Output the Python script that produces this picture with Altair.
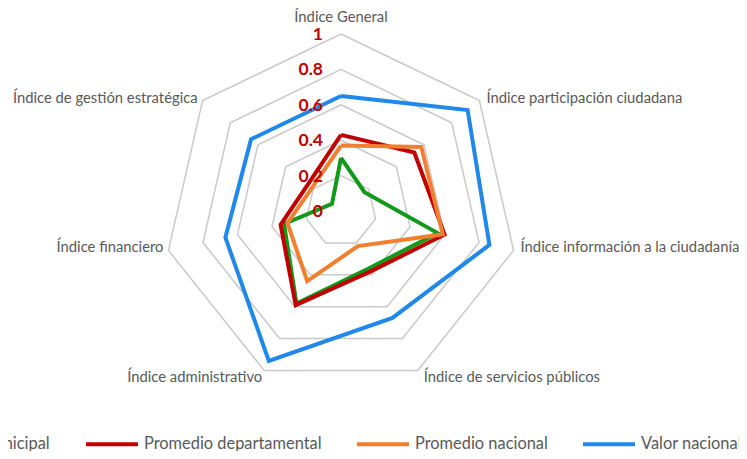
import altair as alt
import pandas as pd

# ---------------- data ----------------
categories = [
    "Índice General",
    "Índice participación ciudadana",
    "Índice información a la ciudadanía",
    "Índice de servicios públicos",
    "Índice administrativo",
    "Índice financiero",
    "Índice de gestión estratégica",
]
series_names = ["Valor municipal", "Promedio departamental", "Promedio nacional", "Valor nacional"]
valor_municipal = [0.30, 0.17, 0.56, 0.36, 0.58, 0.33, 0.065]
promedio_departamental = [0.43, 0.53, 0.60, 0.38, 0.59, 0.35, 0.24]
promedio_nacional = [0.37, 0.58, 0.59, 0.22, 0.44, 0.31, 0.21]
valor_nacional = [0.65, 0.915, 0.86, 0.67, 0.94, 0.67, 0.65]
series_colors = ["#12991A", "#C00000", "#F0802F", "#1F88EA"]
ring_values = [0.2, 0.4, 0.6, 0.8, 1.0]
tick_values = [0, 0.2, 0.4, 0.6, 0.8, 1.0]
tick_labels = ["0", "0.2", "0.4", "0.6", "0.8", "1"]

N = len(categories)
all_series = [valor_municipal, promedio_departamental, promedio_nacional, valor_nacional]

rows = []
for name, vals in zip(series_names, all_series):
    for i in range(N + 1):
        rows.append({"serie": name, "k": i, "v": vals[i % N]})
df = pd.DataFrame(rows)

ring_rows = []
for r in ring_values:
    for i in range(N + 1):
        ring_rows.append({"ring": r, "k": i, "v": r})
rings = pd.DataFrame(ring_rows)

labels_df = pd.DataFrame({"k": list(range(N)), "cat": categories, "v": [1.0] * N})
ticks_df = pd.DataFrame({"k": [0] * len(tick_values), "v": tick_values, "lab": tick_labels})

# ---------------- scales ----------------
W, H = 731, 443
unit = 177.0
cx, cy = 333.0, 203.0
xdom = [-cx / unit, (W - cx) / unit]
ydom = [-(H - cy) / unit, cy / unit]
X = alt.X("x:Q", scale=alt.Scale(domain=xdom, nice=False, zero=False), axis=None)
Y = alt.Y("y:Q", scale=alt.Scale(domain=ydom, nice=False, zero=False), axis=None)


def polar(ch):
    return ch.transform_calculate(theta=f"datum.k*2*PI/{N}").transform_calculate(
        x="datum.v*sin(datum.theta)", y="datum.v*cos(datum.theta)"
    )


color = alt.Color(
    "serie:N",
    scale=alt.Scale(domain=series_names, range=series_colors),
    title=None,
    legend=alt.Legend(
        orient="none",
        legendX=-128,
        legendY=408,
        direction="horizontal",
        symbolType="stroke",
        symbolSize=2704,
        symbolStrokeWidth=4,
        labelFont="Lato",
        labelFontSize=16.4,
        labelColor="#595959",
        labelOffset=4,
        labelLimit=400,
        columnPadding=27,
        padding=0,
    ),
)

grid = polar(alt.Chart(rings)).mark_line(color="#C9C9C9", strokeWidth=1.5).encode(
    x=X, y=Y, detail="ring:N", order="k:Q"
)

lines = []
for name in series_names:
    lines.append(
        polar(alt.Chart(df))
        .transform_filter(alt.datum.serie == name)
        .mark_line(strokeWidth=4, strokeJoin="miter")
        .encode(x=X, y=Y, order="k:Q", color=color)
    )

font = "Lato"
tcol = "#595959"
fs = 14.8


def cat_layer(ks, align, dx, dy):
    return (
        polar(alt.Chart(labels_df))
        .transform_filter(alt.FieldOneOfPredicate(field="k", oneOf=ks))
        .mark_text(align=align, baseline="middle", dx=dx, dy=dy, font=font, fontSize=fs, color=tcol)
        .encode(x=X, y=Y, text="cat:N")
    )


cat_top = cat_layer([0], "center", 0, -16)
cat_right = cat_layer([1, 2], "left", 7, -2)
cat_br = cat_layer([3], "left", 6, 8)
cat_bl = cat_layer([4], "right", -2, 8)
cat_left = cat_layer([5, 6], "right", -5, -2)

ticks = polar(alt.Chart(ticks_df)).mark_text(
    align="right", baseline="middle", dx=-18, dy=1, font=font, fontSize=17.5, fontWeight="bold", color="#C00000"
).encode(x=X, y=Y, text="lab:N")

chart = (
    alt.layer(grid, *lines, cat_top, cat_right, cat_br, cat_bl, cat_left, ticks)
    .properties(width=W, height=H, autosize=alt.AutoSizeParams(type="none"), padding=0, background="white")
    .configure_view(stroke=None)
)

chart.save("out.html", embed_options={"renderer": "svg", "actions": False})
